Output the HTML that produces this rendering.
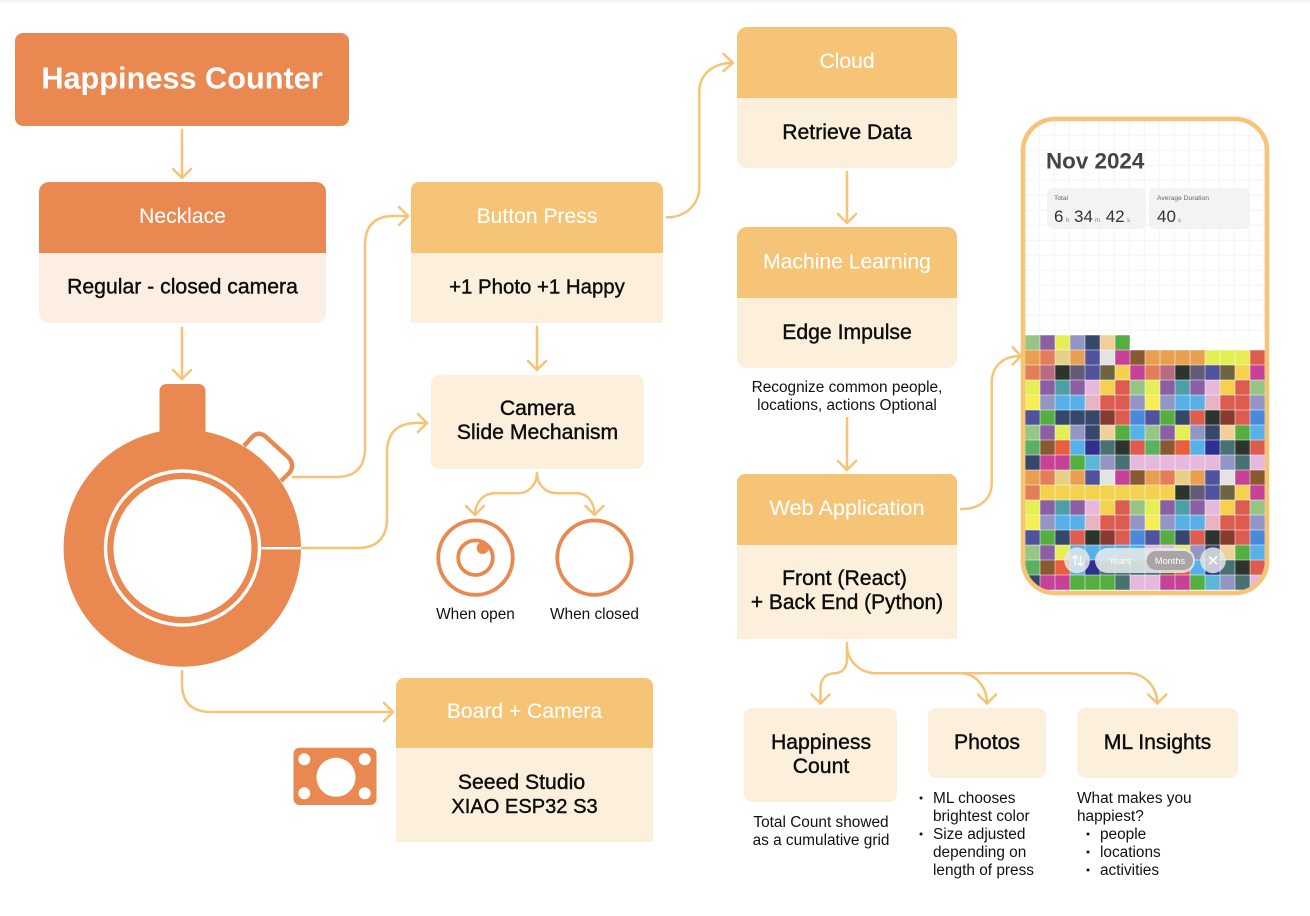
<!DOCTYPE html>
<html lang="en">
<head>
<meta charset="utf-8">
<title>Happiness Counter</title>
<style>
html,body{margin:0;padding:0;background:#fff;width:1310px;height:916px;overflow:hidden}
svg{display:block}
text{font-family:"Liberation Sans",Arial,sans-serif}
.hd{fill:#fff;font-size:21.1px;text-anchor:middle;stroke:#fff;stroke-width:.1px}
.bd{fill:#0c0c0c;font-size:21.2px;text-anchor:middle;stroke:#0c0c0c;stroke-width:.4px}
.cap{fill:#111;font-size:15.4px}
.mid{text-anchor:middle}
.conn{fill:none;stroke:#f6c476;stroke-width:2.5;stroke-linecap:round;stroke-linejoin:round}
</style>
</head>
<body>
<svg id="root" xmlns="http://www.w3.org/2000/svg" width="1310" height="916" viewBox="0 0 1310 916">
<defs>
<clipPath id="phone-clip"><rect x="1023" y="119" width="244" height="474" rx="32"/></clipPath>
<pattern id="grid-pattern" x="1025" y="136" width="15" height="15" patternUnits="userSpaceOnUse"><path d="M15 0V15M0 15H15" fill="none" stroke="#f7f7f7" stroke-width="1.8" transform="translate(-.5,-.5)"/></pattern>
</defs>
<rect width="1310" height="916" fill="#fff"/>
<rect width="1310" height="3" fill="#f5f5f5"/>

<g class="conn">
<path d="M182 130V178M173 169L182 178L191 169"/>
<path d="M182 328V379M173 370L182 379L191 370"/>
<path d="M293 477H336Q365 477 365 448V245Q365 216 394 216H408M399 207L408 216L399 225"/>
<path d="M301 548H357Q387 548 387 518V453Q387 423 417 423H427M418 414L427 423L418 432"/>
<path d="M182 671V683Q182 712 211 712H393M384 703L393 712L384 721"/>
<path d="M667 217.300C685 217.300 699.300 205 699.300 186.700V92C699.300 75 712 63 733 62.700M723.500 54L733 62.700L723.500 71"/>
<path d="M537 327V370M528 361L537 370L546 361"/>
<path d="M537 473C537 485 528 493.300 518 493.300H495C483 493.300 475 503 475 515M466 506L475 515L484 506"/>
<path d="M537 473C537 485 546 493.300 556.700 493.300H576.700C588 493.300 594.500 503 594.500 515M585.500 506L594.500 515L603.500 506"/>
<path d="M847 172V223M838 214L847 223L856 214"/>
<path d="M847 418V470M838 461L847 470L856 461"/>
<path d="M961 509C980 509 991.700 499 991.700 483.300V383.300C991.700 366 1003 356 1021 356M1012.700 347.300L1021 356L1012.700 364.500"/>
<path d="M847 643V660C847 668 841 673.300 835 673.300C826 673.300 820.500 679 820.500 688V703.500M811.500 694.500L820.500 703.500L829.500 694.500"/>
<path d="M847 648C849 663 861 673.300 877 673.300H960C976 673.300 987 687 987 703.500M978 694.500L987 703.500L996 694.500"/>
<path d="M877 673.300H1128C1145 673.300 1157.300 687 1157.300 703.500M1148.300 694.500L1157.300 703.500L1166.300 694.500"/>
</g>

<g>
<rect x="15" y="33" width="334" height="93" rx="8" fill="#e98850"/>
<text x="182" y="88.500" text-anchor="middle" fill="#fff" font-size="30.700" font-weight="700">Happiness Counter</text>
</g>

<g>
<rect x="39" y="182" width="287" height="141" rx="10" fill="#fdeee4"/>
<path d="M39 253V192a10 10 0 0 1 10-10H316a10 10 0 0 1 10 10V253Z" fill="#e98850"/>
<text class="hd" x="182.500" y="223">Necklace</text>
<text class="bd" x="182.500" y="293.500">Regular - closed camera</text>
</g>

<g>
<rect x="411" y="253" width="252" height="70" fill="#fcf0dd"/>
<path d="M411 253V190a8 8 0 0 1 8-8H655a8 8 0 0 1 8 8V253Z" fill="#f6c476"/>
<text class="hd" x="537" y="223">Button Press</text>
<text class="bd" x="537" y="293.500" style="font-size:20.400px">+1 Photo +1 Happy</text>
</g>

<g>
<rect x="431" y="375" width="213" height="94" rx="8" fill="#fcf0dd"/>
<text class="bd" x="537.500" y="415">Camera</text>
<text class="bd" x="537.500" y="439">Slide Mechanism</text>
</g>

<g>
<rect x="396" y="748" width="257" height="94" fill="#fcf0dd"/>
<path d="M396 748V686a8 8 0 0 1 8-8H645a8 8 0 0 1 8 8V748Z" fill="#f6c476"/>
<text class="hd" x="524.500" y="718">Board + Camera</text>
<text class="bd" x="521.500" y="789">Seeed Studio</text>
<text class="bd" x="524.500" y="813" style="font-size:20.100px">XIAO ESP32 S3</text>
</g>

<g>
<rect x="737" y="27" width="220" height="141" rx="10" fill="#fcf0dd"/>
<path d="M737 98V37a10 10 0 0 1 10-10H947a10 10 0 0 1 10 10V98Z" fill="#f6c476"/>
<text class="hd" x="847" y="68">Cloud</text>
<text class="bd" x="847" y="139">Retrieve Data</text>
</g>

<g>
<rect x="737" y="227" width="220" height="141" rx="10" fill="#fcf0dd"/>
<path d="M737 298V237a10 10 0 0 1 10-10H947a10 10 0 0 1 10 10V298Z" fill="#f6c476"/>
<text class="hd" x="847" y="268.500">Machine Learning</text>
<text class="bd" x="847" y="339">Edge Impulse</text>
</g>
<g>
<text class="cap mid" x="847" y="392">Recognize common people,</text>
<text class="cap mid" x="847" y="410">locations, actions Optional</text>
</g>

<g>
<rect x="737" y="545" width="220" height="94" fill="#fcf0dd"/>
<path d="M737 545V482a8 8 0 0 1 8-8H949a8 8 0 0 1 8 8V545Z" fill="#f6c476"/>
<text class="hd" x="847" y="515" style="font-size:21.700px">Web Application</text>
<text class="bd" x="844.500" y="585">Front (React)</text>
<text class="bd" x="847" y="609" style="font-size:20.900px">+ Back End (Python)</text>
</g>

<g>
<rect x="744" y="708" width="153" height="94" rx="8" fill="#fcf0dd"/>
<text class="bd" x="821" y="749">Happiness</text>
<text class="bd" x="821" y="773">Count</text>
</g>
<g>
<text class="cap mid" x="821" y="827">Total Count showed</text>
<text class="cap mid" x="821" y="845">as a cumulative grid</text>
</g>

<g>
<rect x="928" y="708" width="118" height="70" rx="8" fill="#fcf0dd"/>
<text class="bd" x="987" y="749">Photos</text>
</g>
<g>
<circle cx="921" cy="798" r="1.500" fill="#111"/>
<text class="cap" x="933" y="803">ML chooses</text>
<text class="cap" x="933" y="821">brightest color</text>
<circle cx="921" cy="834" r="1.500" fill="#111"/>
<text class="cap" x="933" y="839">Size adjusted</text>
<text class="cap" x="933" y="857">depending on</text>
<text class="cap" x="933" y="875">length of press</text>
</g>

<g>
<rect x="1077" y="708" width="161" height="70" rx="8" fill="#fcf0dd"/>
<text class="bd" x="1157.500" y="749">ML Insights</text>
</g>
<g>
<text class="cap" x="1077" y="803">What makes you</text>
<text class="cap" x="1077" y="821">happiest?</text>
<circle cx="1088" cy="834" r="1.500" fill="#111"/>
<text class="cap" x="1100" y="839">people</text>
<circle cx="1088" cy="852" r="1.500" fill="#111"/>
<text class="cap" x="1100" y="857">locations</text>
<circle cx="1088" cy="870" r="1.500" fill="#111"/>
<text class="cap" x="1100" y="875">activities</text>
</g>

<g>
<rect x="159.500" y="384" width="46" height="70" rx="7" fill="#e98850"/>
<path d="M244 446L252 437Q258 431 265 436L288 457Q295 464 290 472L281 481" fill="none" stroke="#e98850" stroke-width="4.400"/>
<circle cx="182.300" cy="548" r="118.700" fill="#e98850"/>
<circle cx="182.500" cy="548" r="77" fill="none" stroke="#fff" stroke-width="3.400"/>
<circle cx="182.500" cy="548" r="69" fill="#fff"/>
<rect x="261.500" y="547" width="39.500" height="2.400" fill="#fff"/>
</g>

<g>
<circle cx="475.500" cy="557.700" r="37.200" fill="none" stroke="#e98850" stroke-width="3.800"/>
<circle cx="475.500" cy="557.700" r="17.300" fill="none" stroke="#e98850" stroke-width="3.800"/>
<circle cx="482.700" cy="548" r="6" fill="#e98850"/>
</g>
<text class="cap mid" x="475.500" y="619">When open</text>
<circle cx="594.500" cy="557.700" r="37.200" fill="none" stroke="#e98850" stroke-width="3.800"/>
<text class="cap mid" x="594.500" y="619">When closed</text>

<path fill="#e98850" fill-rule="evenodd" d="M299.500 747.700H370.500a6 6 0 0 1 6 6V799a6 6 0 0 1-6 6H299.500a6 6 0 0 1-6-6V753.700a6 6 0 0 1 6-6ZM336 757.800a19.500 19.500 0 1 0 .01 0ZM304.300 753.300a6 6 0 1 0 .01 0ZM364.700 753.300a6 6 0 1 0 .01 0ZM304.300 787.300a6 6 0 1 0 .01 0ZM364.700 787.300a6 6 0 1 0 .01 0Z"/>

<g>
<rect x="1023" y="119" width="244" height="474" rx="32" fill="#fff"/>
<g clip-path="url(#phone-clip)">
<rect x="1023" y="119" width="244" height="216" fill="url(#grid-pattern)"/>
<g id="cells"></g>
</g>
<text x="1046" y="168.500" font-size="22.400" font-weight="700" fill="#444">Nov 2024</text>
<g>
<rect x="1047" y="188" width="99" height="41" rx="6" fill="#f3f3f3"/>
<text x="1054" y="200" font-size="6.700" fill="#666">Total</text>
<text x="1054" y="222" font-size="17" fill="#333">6</text><text x="1066" y="222" font-size="6" fill="#777">h</text>
<text x="1074" y="222" font-size="17" fill="#333">34</text><text x="1095" y="222" font-size="6" fill="#777">m</text>
<text x="1105.700" y="222" font-size="17" fill="#333">42</text><text x="1127" y="222" font-size="6" fill="#777">s</text>
</g>
<g>
<rect x="1149" y="188" width="101" height="41" rx="6" fill="#f3f3f3"/>
<text x="1157" y="200" font-size="6.700" fill="#666">Average Duration</text>
<text x="1157" y="222" font-size="17" fill="#333">40</text><text x="1178" y="222" font-size="6" fill="#777">s</text>
</g>
<g>
<circle cx="1077" cy="560.300" r="12.900" fill="#e4e6e6" fill-opacity=".85"/>
<path d="M1075 565.500V555.500M1072 558.500L1075 555.500L1078 558.500M1080.500 555.500V565.500M1077.500 562.500L1080.500 565.500L1083.500 562.500" stroke="#fff" stroke-width="1.300" fill="none"/>
</g>
<g>
<rect x="1095" y="548" width="100" height="25" rx="12.500" fill="#e4e8e8" fill-opacity=".88"/>
<rect x="1146.700" y="551" width="46.300" height="19" rx="9.500" fill="#a9a5a5"/>
<text x="1120" y="564" font-size="8.800" text-anchor="middle" fill="#fff">Years</text>
<text x="1170" y="564" font-size="9.200" text-anchor="middle" fill="#fff">Months</text>
</g>
<g>
<circle cx="1213" cy="560.300" r="12.900" fill="#e4e6e6" fill-opacity=".85"/>
<path d="M1209 556.300L1217 564.300M1217 556.300L1209 564.300" stroke="#fff" stroke-width="1.500" fill="none"/>
</g>
<rect x="1023" y="119" width="244" height="474" rx="32" fill="none" stroke="#f6c476" stroke-width="4.600"/>
</g>
</svg>
<script>
var palette = {
  a:'#96c586', p:'#8a5fa3', y:'#e6ee55', l:'#9396c4', n:'#37476b', t:'#f0d098', G:'#55ae40',
  o:'#e8a050', c:'#e27f5a', s:'#e6cf87', i:'#50529c', w:'#e3e3e3', m:'#c54298', b:'#875a32',
  r:'#dd5c50', R:'#b86a80', d:'#2d332d', S:'#625b78', O:'#6e6540', Y:'#f4d24d', T:'#4e9fa5',
  k:'#e6b8dd', B:'#f5ee55', K:'#e9b4c2', u:'#58b0e8', M:'#873a30', e:'#4a88d8', g:'#5bb163',
  f:'#e85d3a', D:'#2e2f8f', h:'#487272', C:'#5ab7d8'
};
var gridRows = [
  'apylntG',
  'ocsoiwmbooooyyyr',
  'cRdSiOYmcRdSiOYm',
  'ypTpkYraypTpkYra',
  'BluuKrrlBluuKrrl',
  'iGnnnMreiGnrdMre',
  'apylntGuapylntGu',
  'gbfuDhdrgbfuDhdr',
  'nmmGClhkkkkkklhk',
  'ocsoiwmbocsoiwmb',
  'cYYYYYYYYYdSiOYm',
  'ypTpkYraypTpkYra',
  'BluuKrrlBluuKrrl',
  'iGnrdMreiGnrdMre',
  'apyuuuuukkylntGu',
  'gbfuDhhhhbfuDhdr',
  'nmmGGGhkkmmGClhk'
];
var columnWidth = 15, rowHeight = 15, gridLeft = 1025, gridTop = 335;
function xAt(col){ return gridLeft + col * columnWidth; }
function yAt(row){ return gridTop + row * rowHeight; }
var holder = document.getElementById('cells');
gridRows.forEach(function(rowText, row){
  rowText.split('').forEach(function(key, col){
    var el = document.createElementNS('http://www.w3.org/2000/svg', 'rect');
    
    
    el.setAttribute('x', xAt(col) + 0.25);
    el.setAttribute('y', yAt(row) + 0.25);
    el.setAttribute('width', columnWidth - 0.5);
    el.setAttribute('height', rowHeight - 0.5);
    el.setAttribute('fill', palette[key]);
    holder.appendChild(el);
  });
});
</script>
</body>
</html>
